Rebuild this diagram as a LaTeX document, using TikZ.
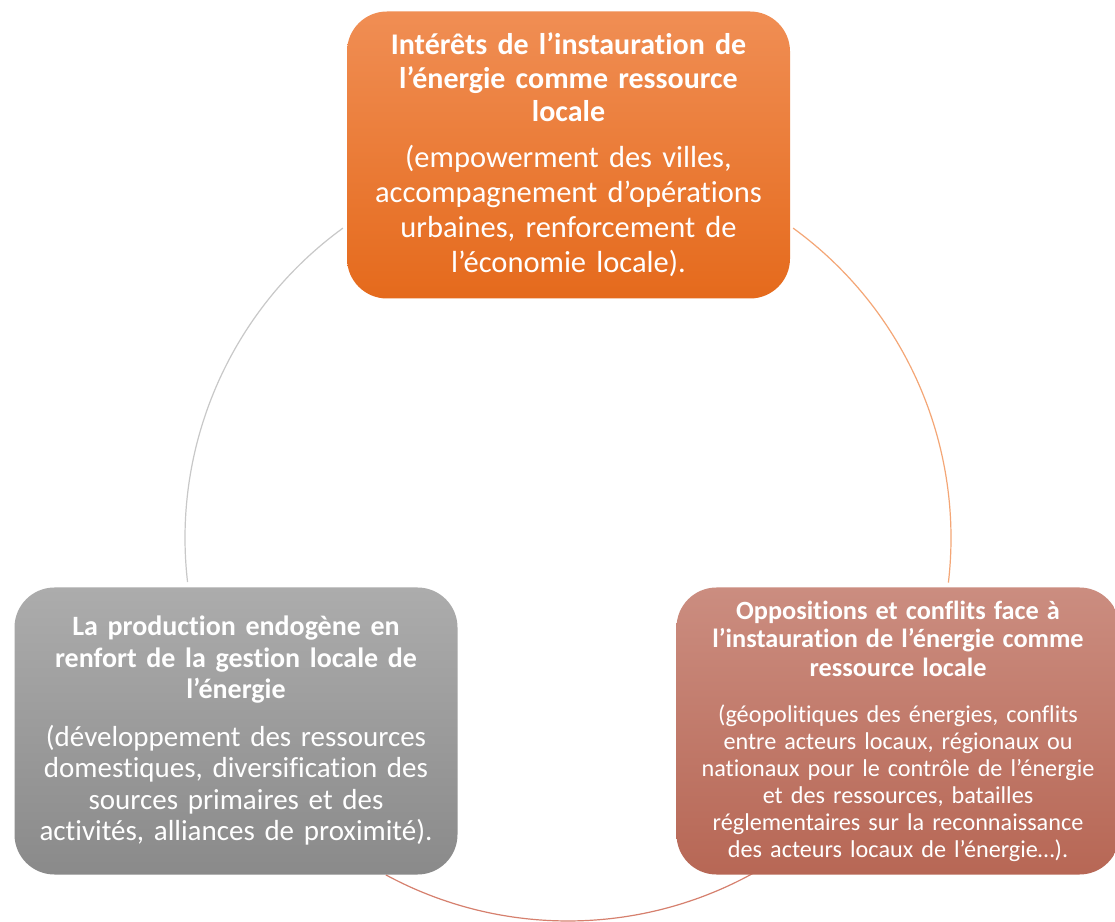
\documentclass[tikz,border=0pt]{standalone}
\usepackage{fontspec}
\setmainfont[Ligatures=NoCommon]{Carlito}
\usetikzlibrary{calc}
\definecolor{interesttop}{RGB}{240,142,84}
\definecolor{interestbot}{RGB}{229,106,28}
\definecolor{prodtop}{RGB}{172,172,172}
\definecolor{prodbot}{RGB}{138,138,138}
\definecolor{conflicttop}{RGB}{203,141,128}
\definecolor{conflictbot}{RGB}{183,103,85}
\definecolor{ringorange}{RGB}{244,166,118}
\definecolor{ringgray}{RGB}{200,200,200}
\definecolor{ringred}{RGB}{214,128,110}
\tikzset{
  cyclebox/.style={rounded corners=40pt,minimum width=443pt,minimum height=287pt,
                   inner sep=0pt,align=center,text=white,text width=435pt},
  interest/.style={cyclebox,top color=interesttop,bottom color=interestbot,
                   font=\fontsize{30.5}{35}\selectfont},
  production/.style={cyclebox,top color=prodtop,bottom color=prodbot,
                   font=\fontsize{29}{31.5}\selectfont},
  conflict/.style={cyclebox,top color=conflicttop,bottom color=conflictbot,
                   font=\fontsize{24.2}{27}\selectfont},
  ring/.style={line width=1.2pt},
}
\begin{document}
\begin{tikzpicture}[x=1pt,y=1pt]
  \path[use as bounding box,fill=white] (0,0) rectangle (1115,921);
  \coordinate (ctr) at (568,383);

  \draw[ring,draw=ringgray] ($(ctr)+(186.6:383pt)$) arc[start angle=186.6,end angle=126,radius=383pt];
  \draw[ring,draw=ringorange] ($(ctr)+(54:383pt)$) arc[start angle=54,end angle=-6.7,radius=383pt];
  \draw[ring,draw=ringred] ($(ctr)+(-57.6:383pt)$) arc[start angle=-57.6,end angle=-118.4,radius=383pt];

  \node[interest] (interets) at (568.5,766)
    {{\fontsize{30}{33.5}\selectfont\bfseries
     Intérêts de l’instauration de\\
     l’énergie comme ressource\\
     locale\\[11pt]}
     (empowerment des villes,\\
     accompagnement d’opérations\\
     urbaines, renforcement de\\
     l’économie locale).};
  \node[production] (production) at (236,190)
    {{\fontsize{28}{31.5}\selectfont\bfseries
     La production endogène en\\
     renfort de la gestion locale de\\
     l’énergie\\[16pt]}
     (développement des ressources\\
     domestiques, diversification des\\
     sources primaires et des\\
     activités, alliances de proximité).};
  \node[conflict] (conflits) at (898,190)
    {{\fontsize{26.3}{28.5}\selectfont\bfseries
     Oppositions et conflits face à\\
     l’instauration de l’énergie comme\\
     ressource locale\\[19pt]}
     (géopolitiques des énergies, conflits\\
     entre acteurs locaux, régionaux ou\\
     nationaux pour le contrôle de l’énergie\\
     et des ressources, batailles\\
     réglementaires sur la reconnaissance\\
     des acteurs locaux de l’énergie…).};
\end{tikzpicture}
\end{document}
